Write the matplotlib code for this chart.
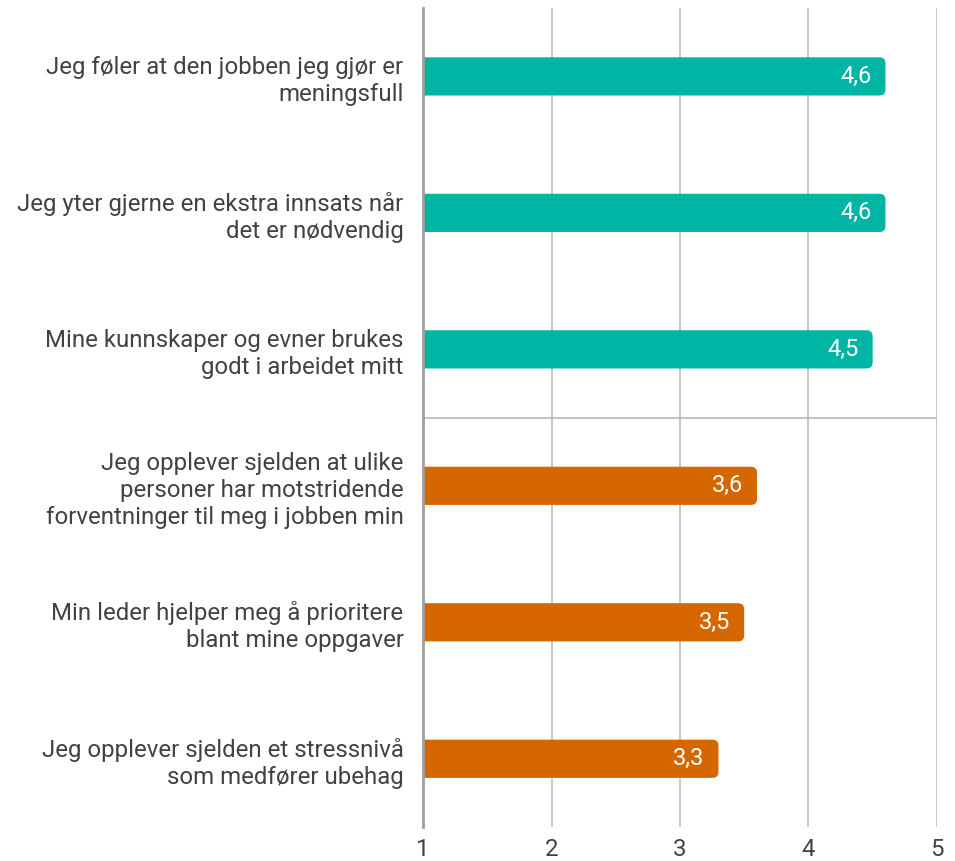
import matplotlib
matplotlib.use("Agg")
import matplotlib.pyplot as plt
from matplotlib.patches import FancyBboxPatch

plt.rcParams["font.family"] = ["Roboto", "DejaVu Sans"]

# -- Donnees --------------------------------------------------------------------
categories = [
    "Jeg føler at den jobben jeg gjør er\nmeningsfull",
    "Jeg yter gjerne en ekstra innsats når\ndet er nødvendig",
    "Mine kunnskaper og evner brukes\ngodt i arbeidet mitt",
    "Jeg opplever sjelden at ulike\npersoner har motstridende\nforventninger til meg i jobben min",
    "Min leder hjelper meg å prioritere\nblant mine oppgaver",
    "Jeg opplever sjelden et stressnivå\nsom medfører ubehag",
]
values = [4.6, 4.6, 4.5, 3.6, 3.5, 3.3]
labels = ["4,6", "4,6", "4,5", "3,6", "3,5", "3,3"]
groups = ["high", "high", "high", "low", "low", "low"]

COLORS = {"high": "#00B5A3", "low": "#D56600"}
TEXT = "#424242"
GRID = "#b8b8b8"

fig = plt.figure(figsize=(9.55, 8.61), dpi=100)
ax = fig.add_axes([0.443, 0.0395, 0.538, 0.951])

ax.set_xlim(1, 5)
ax.set_ylim(len(categories) - 0.5, -0.5)

BAR_H = 0.28
for i, (v, lab, g) in enumerate(zip(values, labels, groups)):
    # barre arrondie : le coin gauche depasse l'axe et est coupe par le clip
    ax.add_patch(FancyBboxPatch((0.8, i - BAR_H / 2), v - 0.8, BAR_H,
                                boxstyle="round,pad=0,rounding_size=0.047",
                                mutation_aspect=0.94, facecolor=COLORS[g],
                                edgecolor="none", zorder=3))
    ax.text(v - 0.11, i, lab, ha="right", va="center", color="white",
            fontsize=17, zorder=4)

# separation entre les deux groupes
ax.plot([1, 5], [2.5, 2.5], color=GRID, lw=1.2, zorder=1)

ax.set_xticks([1, 2, 3, 4, 5])
ax.set_xticklabels(["1", "2", "3", "4", "5"])
ax.set_yticks(range(len(categories)))
ax.set_yticklabels(categories, ha="right", linespacing=1.22)
ax.tick_params(axis="both", length=0, colors=TEXT, labelsize=17.3)
ax.tick_params(axis="x", pad=8)
ax.tick_params(axis="y", pad=14)

ax.grid(axis="x", color=GRID, lw=1.1, zorder=0)
for s in ["top", "right", "bottom"]:
    ax.spines[s].set_visible(False)
ax.spines["left"].set_color("#9e9e9e")
ax.spines["left"].set_linewidth(2)
ax.spines["left"].set_zorder(5)

fig.savefig("out.png", dpi=100)
